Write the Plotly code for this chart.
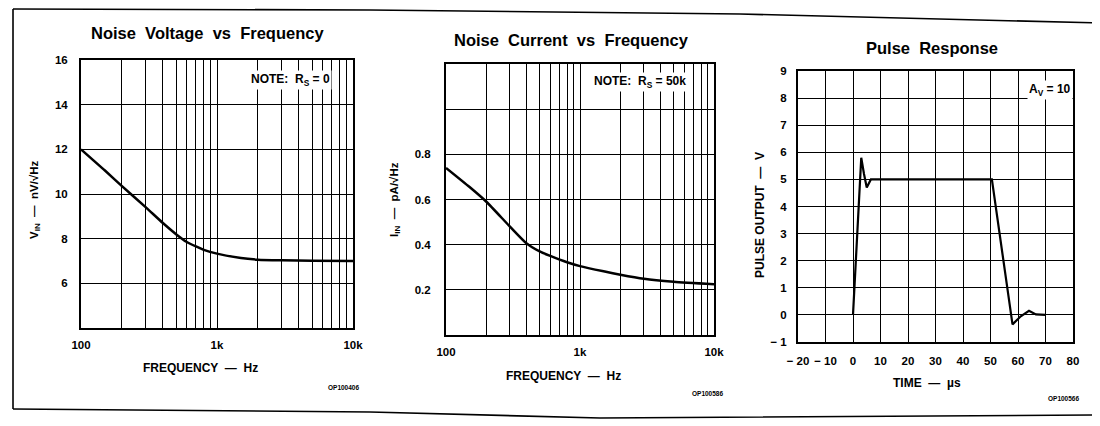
import plotly.graph_objects as go

# ---------------- data ----------------
# Panel 1: Noise voltage vs frequency (Rs = 0)
vn_freq = [100, 150, 200, 300, 400, 500, 600, 700, 800, 1000, 1500, 2000, 3000, 5000, 10000]
vn_vals = [12.0, 11.05, 10.35, 9.4, 8.7, 8.2, 7.85, 7.65, 7.5, 7.33, 7.13, 7.06, 7.03, 7.01, 7.0]

# Panel 2: Noise current vs frequency (Rs = 50k)
in_freq = [100, 150, 200, 300, 400, 500, 600, 800, 1000, 1500, 2000, 3000, 5000, 10000]
in_vals = [0.74, 0.655, 0.59, 0.48, 0.405, 0.37, 0.35, 0.322, 0.305, 0.282, 0.267, 0.249, 0.236, 0.225]

# Panel 3: Pulse response (Av = 10)
pulse_t = [0, 1.5, 3.0, 4.0, 5.0, 6.5, 50.5, 58.0, 61.0, 64.0, 66.5, 70.0]
pulse_v = [0, 3.0, 5.8, 5.2, 4.7, 5.0, 5.0, -0.35, -0.05, 0.15, 0.02, 0.0]

# tick labels
log_tickvals = [100, 200, 300, 400, 500, 600, 700, 800, 900,
                1000, 2000, 3000, 4000, 5000, 6000, 7000, 8000, 9000, 10000]
log_ticktext = ["100", "", "", "", "", "", "", "", "",
                "1k", "", "", "", "", "", "", "", "", "10k"]
vn_tickvals = [4, 6, 8, 10, 12, 14, 16]
vn_ticktext = ["", "6", "8", "10", "12", "14", "16"]
in_tickvals = [0, 0.2, 0.4, 0.6, 0.8, 1.0, 1.2]
in_ticktext = ["", "0.2", "0.4", "0.6", "0.8", "", ""]
pulse_xvals = [-20, -10, 0, 10, 20, 30, 40, 50, 60, 70, 80]
pulse_xtext = ["\u2212 20", "\u2212 10", "0", "10", "20", "30", "40", "50", "60", "70", "80"]
pulse_yvals = [-1, 0, 1, 2, 3, 4, 5, 6, 7, 8, 9]
pulse_ytext = ["\u2212 1", "0", "1", "2", "3", "4", "5", "6", "7", "8", "9"]

titles = ["Noise  Voltage  vs  Frequency", "Noise  Current  vs  Frequency", "Pulse  Response"]

# ---------------- figure ----------------
W, H = 1100, 426
OFF = 8  # page body margin
FONT = "Liberation Sans"


def px(x):
    return (x - OFF) / W


def py(y):
    return 1 - (y - OFF) / H


fig = go.Figure()
fig.add_trace(go.Scatter(x=vn_freq, y=vn_vals, mode="lines", xaxis="x", yaxis="y",
                         line=dict(color="black", width=2.5, shape="spline", smoothing=0.6),
                         showlegend=False, hoverinfo="skip"))
fig.add_trace(go.Scatter(x=in_freq, y=in_vals, mode="lines", xaxis="x2", yaxis="y2",
                         line=dict(color="black", width=2.5, shape="spline", smoothing=0.6),
                         showlegend=False, hoverinfo="skip"))
fig.add_trace(go.Scatter(x=pulse_t, y=pulse_v, mode="lines", xaxis="x3", yaxis="y3",
                         line=dict(color="black", width=2.2),
                         showlegend=False, hoverinfo="skip"))

tickfont = dict(family=FONT, size=11.5, color="black", weight="bold")
common = dict(showline=True, mirror=True, linecolor="black", linewidth=2,
              showgrid=True, gridcolor="black", gridwidth=1.4, zeroline=False,
              ticks="", tickfont=tickfont, tickmode="array", fixedrange=True,
              automargin=False)

doms = {
    1: ([px(81), px(353)], [py(328), py(60)]),
    2: ([px(446), px(714)], [py(335), py(64)]),
    3: ([px(798), px(1073)], [py(342), py(71)]),
}

fig.update_layout(
    width=W, height=H, autosize=False,
    margin=dict(l=0, r=0, t=0, b=0, pad=0, autoexpand=False),
    paper_bgcolor="white", plot_bgcolor="white",
    font=dict(family=FONT, color="black"),
    xaxis=dict(domain=doms[1][0], anchor="y", type="log", range=[2, 4],
               tickvals=log_tickvals, ticktext=log_ticktext, ticklabelstandoff=5, **common),
    yaxis=dict(domain=doms[1][1], anchor="x", range=[4, 16],
               tickvals=vn_tickvals, ticktext=vn_ticktext, ticklabelstandoff=9, **common),
    xaxis2=dict(domain=doms[2][0], anchor="y2", type="log", range=[2, 4],
                tickvals=log_tickvals, ticktext=log_ticktext, ticklabelstandoff=5, **common),
    yaxis2=dict(domain=doms[2][1], anchor="x2", range=[0, 1.2],
                tickvals=in_tickvals, ticktext=in_ticktext, ticklabelstandoff=11, **common),
    xaxis3=dict(domain=doms[3][0], anchor="y3", range=[-20, 80],
                tickvals=pulse_xvals, ticktext=pulse_xtext, ticklabelstandoff=7, **common),
    yaxis3=dict(domain=doms[3][1], anchor="x3", range=[-1, 9],
                tickvals=pulse_yvals, ticktext=pulse_ytext, ticklabelstandoff=7, **common),
)

ann = []


def text(x, y, s, size, angle=0, bg=None, weight="bold"):
    d = dict(x=px(x), y=py(y), xref="paper", yref="paper", text=s, showarrow=False,
             xanchor="center", yanchor="middle", textangle=angle,
             font=dict(family=FONT, size=size, color="black", weight=weight))
    if bg:
        d.update(bgcolor=bg, borderpad=1)
    ann.append(d)


# titles
text(207, 33, titles[0], 16.5)
text(571, 40, titles[1], 16.5)
text(932, 48, titles[2], 16.5)
# y-axis titles
text(35, 200, "V<sub>IN</sub>  \u2014  nV/\u221aHz", 11.5, angle=-90)
text(395, 200, "I<sub>IN</sub>  \u2014  pA/\u221aHz", 11.5, angle=-90)
text(760, 215, "PULSE OUTPUT  \u2014  V", 12, angle=-90)
# x-axis titles
text(200, 368, "FREQUENCY  \u2014  Hz", 12)
text(563, 376, "FREQUENCY  \u2014  Hz", 12)
text(927, 383, "TIME  \u2014  \u00b5s", 12)
# drawing codes
text(343, 387, "OP100406", 6.5)
text(707, 393, "OP100586", 6.5)
text(1063, 398, "OP100566", 6.5)
# notes
text(290, 80, "NOTE:  R<sub>S</sub> = 0", 12, bg="white")
text(640, 82, "NOTE:  R<sub>S</sub> = 50k", 12, bg="white")
text(1050, 90, "A<sub>V</sub> = 10", 12, bg="white")

fig.update_layout(annotations=ann)


def path(points):
    return "M " + " L ".join(f"{px(x):.5f},{py(y):.5f}" for x, y in points)


border = dict(type="path", xref="paper", yref="paper", line=dict(color="black", width=1.6))
fig.update_layout(shapes=[
    dict(border, path=path([(13, 9), (370, 10), (740, 14), (1100, 23)])),
    dict(border, path=path([(13, 9), (13, 409)])),
    dict(border, path=path([(13, 409), (370, 412), (600, 418), (1100, 415)])),
    dict(border, path=path([(1097, 190), (1097, 415)])),
])

fig.write_html("out.html")
